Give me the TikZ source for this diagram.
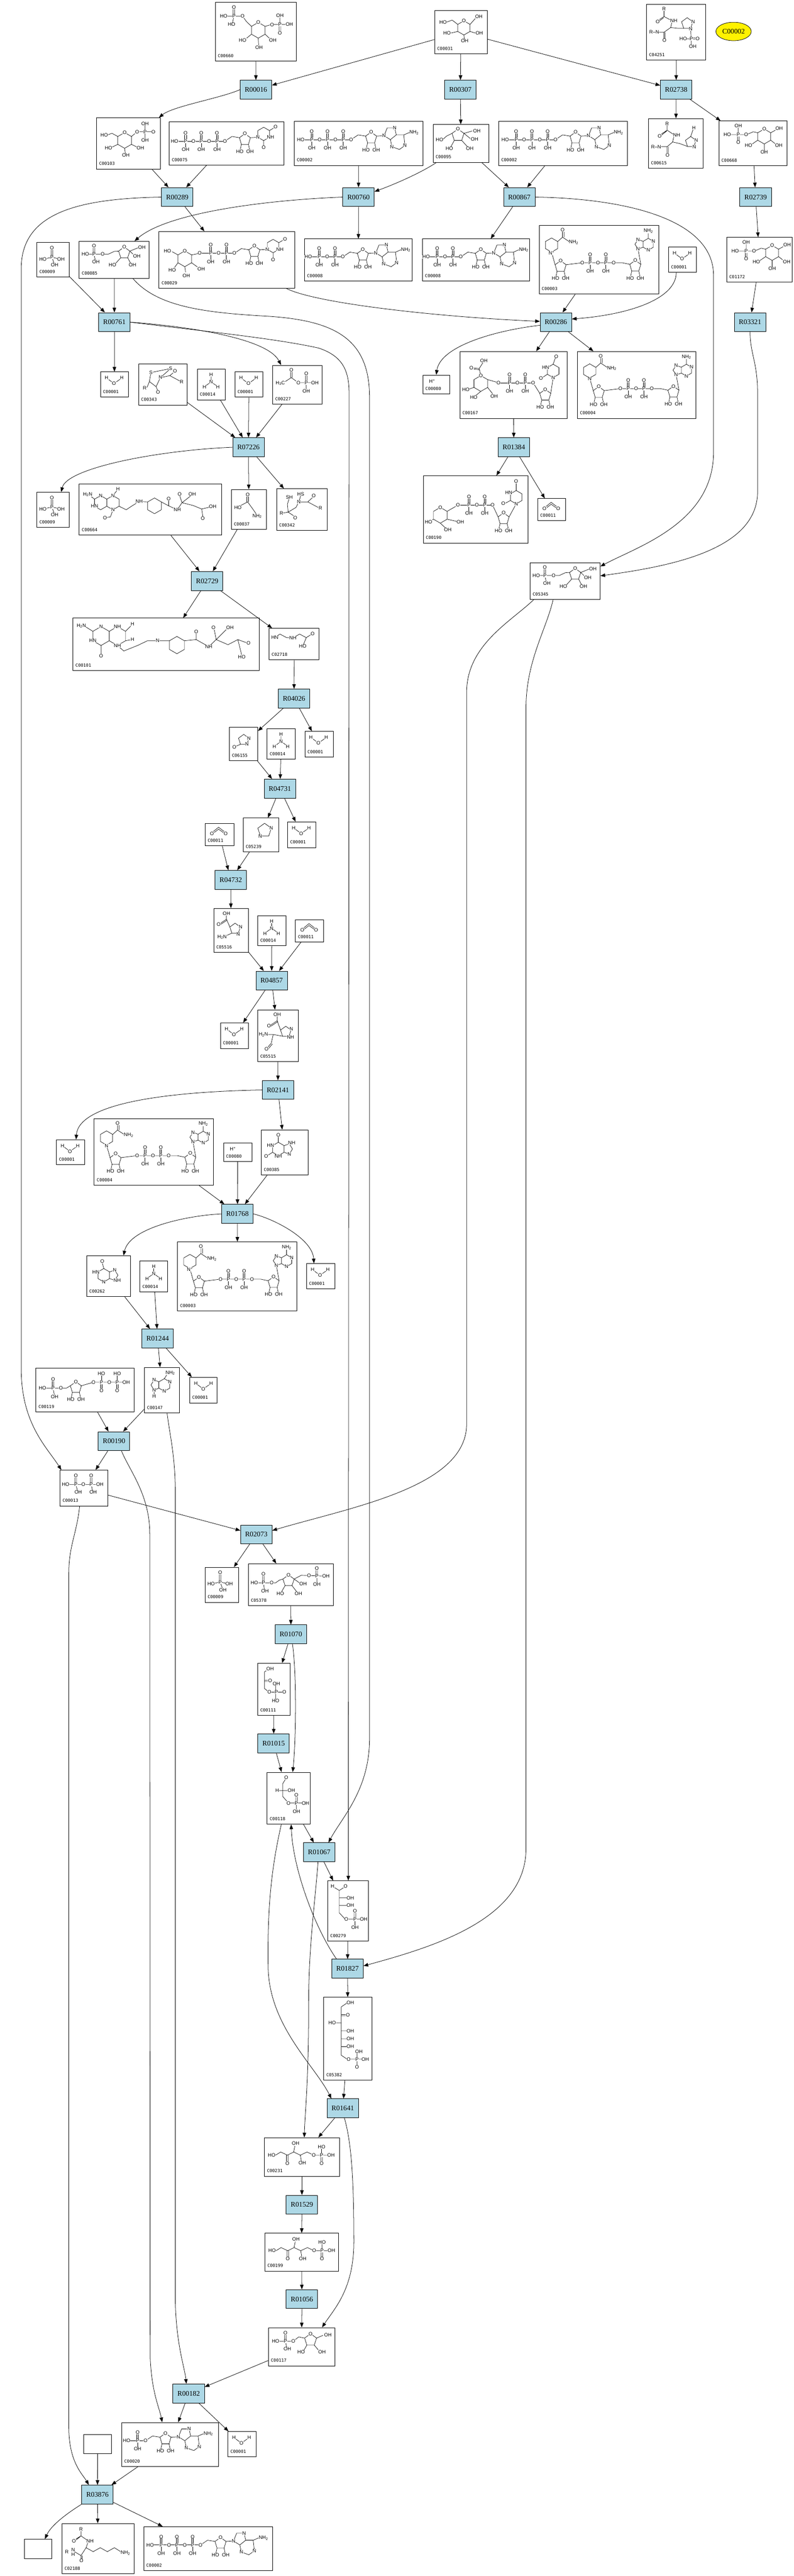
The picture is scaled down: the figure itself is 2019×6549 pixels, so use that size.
\documentclass[tikz,border=0pt]{standalone}
\usepackage{fontspec}
\setmainfont{Liberation Serif}
\newfontfamily\sansf{Liberation Sans}
\newfontfamily\monof{DejaVu Sans Mono}
\usetikzlibrary{arrows.meta,shapes.geometric}
\definecolor{rxblue}{RGB}{173,216,230}
\newcommand\rxfont{\fontsize{18}{20}\selectfont}
\newcommand\atfont{\sansf\fontsize{12.5}{13}\selectfont}
\newcommand\idfont{\monof\fontsize{11}{12}\selectfont}
\tikzset{
 rx/.style={draw,fill=rxblue,line width=1.2pt,minimum width=80pt,minimum height=48pt,inner sep=0pt,font=\rxfont},
 cbox/.style={draw,line width=1.2pt,inner sep=0pt,fill=white},
 idl/.style={anchor=west,font=\idfont,inner sep=0pt},
 atm/.style={font=\atfont,inner sep=0.5pt,fill=white},
 bd/.style={line width=0.9pt},
 conn/.style={line width=1pt,-{Triangle[length=12pt,width=9pt]}},
}
% ---------- helpers ----------
\newcommand\kA[3]{\node[atm] at (#1,#2) {#3};}
\newcommand\kHex[3]{\draw[bd] (#1,#2) +(0,-#3) -- +(0.866*#3,-0.5*#3) -- +(0.866*#3,0.5*#3) -- +(0,#3) -- +(-0.866*#3,0.5*#3) -- +(-0.866*#3,-0.5*#3) -- cycle;}
\newcommand\kPent[3]{\draw[bd] (#1,#2) +(0,-#3) -- +(0.951*#3,-0.309*#3) -- +(0.588*#3,0.809*#3) -- +(-0.588*#3,0.809*#3) -- +(-0.951*#3,-0.309*#3) -- cycle;}
\newcommand\kChain[4]{%
 \pgfmathsetmacro\xe{#1+8+40*#3}%
 \draw[bd] (#1,#2)--(\xe,#2);
 \foreach \k in {1,...,#3}{%
  \pgfmathsetmacro\px{#1+28+40*(\k-1)}%
  \draw[bd] (\px-2,#2)--(\px-2,#2-21) (\px+2,#2)--(\px+2,#2-21) (\px,#2)--(\px,#2+20);
  \kA{\px}{#2}{P}\kA{\px+20}{#2}{O}\kA{\px}{#2-21}{O}\kA{\px}{#2+21}{OH}}
 \kA{#1}{#2}{#4}}
\newcommand\kRib[2]{%
 \draw[bd] (#1,#2-15)--(#1+14,#2-5)--(#1+9,#2+12)--(#1-9,#2+12)--(#1-14,#2-5)--cycle (#1-9,#2+12)--(#1-12,#2+26) (#1+9,#2+12)--(#1+12,#2+26);
 \kA{#1}{#2-15}{O}\kA{#1-13}{#2+30}{HO}\kA{#1+13}{#2+30}{OH}}
\newcommand\kAde[2]{%
 \draw[bd] (#1,#2)--(#1+8,#2-20)--(#1+27,#2-20)--(#1+31,#2-2)--(#1+16,#2+10)--cycle (#1+31,#2-2)--(#1+50,#2-2)--(#1+53,#2+25)--(#1+39,#2+35)--(#1+20,#2+28)--(#1+16,#2+10) (#1+50,#2-2)--(#1+64,#2-8);
 \kA{#1}{#2}{N}\kA{#1+27}{#2-20}{N}\kA{#1+53}{#2+25}{N}\kA{#1+20}{#2+28}{N}\kA{#1+76}{#2-8}{NH\textsubscript{2}}}
\newcommand\kUra[2]{%
 \kHex{#1+14.7}{#2-8.5}{17}
 \draw[bd] (#1+14.7,#2+8.5)--(#1+14.7,#2+22) (#1+29.4,#2-17)--(#1+41,#2-24);
 \kA{#1}{#2}{N}\kA{#1+14.7}{#2+26}{O}\kA{#1+32}{#2}{NH}\kA{#1+45}{#2-26}{O}}
\newcommand\kNuc[5]{%
 \pgfmathsetmacro\xo{#1+8+40*#3}%
 \draw[bd] (\xo,#2)--(\xo+18,#2-12)--(\xo+37,#2-9) (\xo+65,#2-9)--(\xo+84,#2-10);
 \kRib{\xo+51}{#2-4}
 #5{\xo+84}{#2-10}
 \kChain{#1}{#2}{#3}{#4}}
\newcommand\cmp[7]{%
 \node[cbox,minimum width=#4pt,minimum height=#5pt,anchor=north west] (#1) at (#2,#3) {};
 \begin{scope}[shift={(#2,#3)}]#7\end{scope}
 \node[idl] at ([xshift=7pt,yshift=14pt]#1.south west) {#6};}
% ---------- structures ----------
\newcommand\sWat{\draw[bd] (16,16)--(35,30)--(55,16); \kA{16}{16}{H}\kA{35}{30}{O}\kA{55}{16}{H}}
\newcommand\sNH{\draw[bd] (36,15)--(36,33)--(19,45) (36,33)--(53,45); \kA{36}{15}{H}\kA{36}{33}{N}\kA{19}{46}{H}\kA{53}{46}{H}}
\newcommand\sCO{\draw[bd] (18,24)--(35,10)--(53,24) (22,25)--(35,15)--(49,25); \kA{18}{26}{O}\kA{53}{26}{O}}
\newcommand\sHp{\kA{24}{16}{H\textsuperscript{+}}}
\newcommand\sPi{\draw[bd] (37,14)--(37,38) (41,14)--(41,38) (39,38)--(16,43) (39,38)--(62,43) (39,38)--(46,57); \kA{39}{14}{O}\kA{39}{38}{P}\kA{16}{43}{HO}\kA{62}{43}{OH}\kA{46}{58}{OH}}
\newcommand\sPPi{\draw[bd] (15,37)--(102,37) (39,15)--(39,37) (43,15)--(43,37) (78,15)--(78,37) (82,15)--(82,37) (41,37)--(46,56) (80,37)--(84,56); \kA{15}{37}{HO}\kA{41}{37}{P}\kA{60}{37}{O}\kA{80}{37}{P}\kA{102}{37}{OH}\kA{41}{15}{O}\kA{80}{15}{O}\kA{47}{57}{OH}\kA{85}{57}{OH}}
\newcommand\sATP{\kNuc{17}{47}{3}{HO}{\kAde}}
\newcommand\sADP{\kNuc{10}{46}{2}{HO}{\kAde}}
\newcommand\sAMP{\kNuc{13}{47}{1}{HO}{\kAde}}
\newcommand\sUTP{\kNuc{14}{50}{3}{HO}{\kUra}}
\newcommand\sNAD[1]{%
 \kHex{32}{50}{18}
 \draw[bd] (47.6,41)--(60,30)--(60,14) (64,30)--(64,16) (60,30)--(78,42) (32,68)--(41,100) (69,100)--(110,95)--(212,95)--(231,99) (259,99)--(252,60) (265,40.5)--(252,36)--(244,48)--(252,60)--(265,55.5) (278,33)--(278,20);
 \foreach \px in {130,170}{\draw[bd] (\px-2,95)--(\px-2,74) (\px+2,95)--(\px+2,74) (\px,95)--(\px,115); \kA{\px}{95}{P}\kA{\px}{74}{O}\kA{\px}{116}{OH}}
 \kA{110}{95}{O}\kA{150}{95}{O}\kA{190}{95}{O}
 \kRib{55}{105}\kRib{245}{104}
 \kHex{278}{48}{15}
 \kA{60}{12}{O}\kA{88}{43}{NH\textsubscript{2}}\kA{32}{70}{#1}
 \kA{278}{14}{NH\textsubscript{2}}\kA{291}{40.5}{N}\kA{278}{63}{N}\kA{252}{36}{N}\kA{252}{60}{N}}
\newcommand\sGsix{%
 \kHex{116}{40}{19}
 \draw[bd] (50,14)--(50,35) (20,35)--(72,35) (48,35)--(48,54) (52,35)--(52,54) (72,35)--(88,28)--(99.5,30.5) (132.5,30.5)--(148,22) (99.5,49.5)--(84,60) (132.5,49.5)--(146,60) (116,59)--(116,76);
 \kA{50}{13}{OH}\kA{22}{35}{HO}\kA{50}{35}{P}\kA{70}{35}{O}\kA{50}{55}{O}\kA{116}{21}{O}\kA{154}{20}{OH}\kA{76}{62}{HO}\kA{153}{62}{OH}\kA{116}{80}{OH}}
\newcommand\sFsix{%
 \kPent{115}{30}{15}
 \draw[bd] (36,12)--(36,33) (40,12)--(40,33) (16,33)--(75,33) (38,33)--(42,52) (75,33)--(90,26)--(100.7,25.4) (129.3,25.4)--(150,17) (129.3,25.4)--(140,36) (106.2,42.1)--(92,58) (123.8,42.1)--(132,58);
 \kA{38}{12}{O}\kA{16}{33}{HO}\kA{38}{33}{P}\kA{60}{33}{O}\kA{43}{53}{OH}\kA{115}{15}{O}\kA{160}{16}{OH}\kA{147}{38}{OH}\kA{85}{61}{HO}\kA{136}{61}{OH}}
\newcommand\sFBP{%
 \kPent{103}{44}{15}
 \draw[bd] (37,28)--(37,49) (41,28)--(41,49) (16,49)--(70,49) (39,49)--(42,68) (70,49)--(80,42)--(88.7,39.4) (117.3,39.4)--(135,30)--(198,32) (173,32)--(173,13) (177,32)--(177,13) (175,32)--(175,52) (117.3,39.4)--(132,50) (94.2,56.1)--(85,72) (111.8,56.1)--(124,72);
 \kA{39}{27}{O}\kA{16}{49}{HO}\kA{39}{49}{P}\kA{60}{49}{O}\kA{43}{70}{OH}\kA{103}{29}{O}\kA{155}{31}{O}\kA{175}{32}{P}\kA{198}{32}{OH}\kA{175}{12}{O}\kA{175}{53}{OH}\kA{140}{52}{OH}\kA{82}{76}{HO}\kA{128}{76}{OH}}
\newcommand\sCsixsixty{%
 \kHex{110}{72}{20}
 \draw[bd] (46,14)--(46,36) (50,14)--(50,36) (22,36)--(70,36)--(80,50)--(92.7,62) (48,36)--(44,55) (127.3,62)--(145,57)--(190,57) (165,57)--(165,36) (163,57)--(163,78) (167,57)--(167,78) (92.7,82)--(78,94) (127.3,82)--(140,94) (110,92)--(111,110);
 \kA{48}{13}{O}\kA{22}{36}{HO}\kA{48}{36}{P}\kA{70}{36}{O}\kA{42}{57}{HO}\kA{145}{58}{O}\kA{165}{57}{P}\kA{189}{57}{OH}\kA{165}{35}{OH}\kA{165}{79}{O}\kA{110}{52}{O}\kA{70}{97}{HO}\kA{147}{97}{OH}\kA{112}{116}{OH}}
\newcommand\sGlc{%
 \kHex{75}{45}{18}
 \draw[bd] (59.4,36)--(45,25)--(32,30) (90.6,36)--(105,20) (59.4,54)--(42,58) (90.6,54)--(104,58) (75,63)--(76,74);
 \kA{75}{27}{O}\kA{22}{30}{HO}\kA{113}{16}{OH}\kA{32}{58}{HO}\kA{114}{58}{OH}\kA{77}{78}{OH}}
\newcommand\sGlcOneP{%
 \kHex{72}{58}{20}
 \draw[bd] (89.3,48)--(104,36)--(145,36) (124,15)--(124,57) (54.7,48)--(40,40)--(28,44) (54.7,68)--(40,75) (89.3,68)--(104,75) (72,78)--(74,92);
 \kA{72}{38}{O}\kA{104}{36}{O}\kA{124}{36}{P}\kA{145}{36}{O}\kA{124}{15}{OH}\kA{124}{57}{OH}\kA{20}{44}{HO}\kA{31}{77}{HO}\kA{112}{77}{OH}\kA{75}{96}{OH}}
\newcommand\sFru{%
 \kPent{64}{28}{16}
 \draw[bd] (79.2,23.1)--(100,17) (79.2,23.1)--(95,36) (48.8,23.1)--(35,30)--(26,38) (54.6,40.9)--(46,57) (73.4,40.9)--(88,57);
 \kA{64}{12}{O}\kA{112}{17}{OH}\kA{106}{38}{OH}\kA{17}{39}{HO}\kA{42}{62}{HO}\kA{94}{62}{OH}}
\newcommand\sCfour{%
 \kPent{104}{50}{15}
 \draw[bd] (45,16)--(45,32)--(30,42) (44,35)--(31,45) (45,32)--(66,43)--(62,60)--(45,72)--(45,90) (48,72)--(48,90) (45,72)--(28,72) (62,60)--(80,62)--(95.2,62.1) (112.8,62.1)--(114,85) (114,93)--(114,104);
 \kA{45}{13}{R}\kA{29}{45}{O}\kA{70}{43}{NH}\kA{20}{72}{R–N}\kA{46}{93}{O}\kA{119}{45}{N}\kA{113}{64}{N}\kA{110}{89}{HO–P=O}\kA{118}{108}{OH}}
\newcommand\sCsixfifteen{%
 \kPent{108}{60}{14}
 \draw[bd] (48,16)--(48,30)--(30,42) (47,32)--(32,44) (48,30)--(66,42)--(62,60)--(48,72)--(48,90) (51,72)--(51,90) (48,72)--(28,72) (62,60)--(80,64)--(99.8,71.3) (108,46)--(114,28);
 \kA{48}{13}{R}\kA{29}{45}{O}\kA{72}{43}{NH}\kA{20}{72}{R–N}\kA{49}{93}{O}\kA{116}{24}{H}\kA{122}{56}{N}\kA{117}{73}{N}}
\newcommand\sAcP{%
 \draw[bd] (28,45)--(48,32)--(66,45)--(108,45) (46,32)--(46,14) (50,32)--(50,14) (84,45)--(84,22) (88,45)--(88,22) (86,45)--(86,64);
 \kA{48}{13}{O}\kA{20}{46}{H\textsubscript{3}C}\kA{66}{45}{O}\kA{86}{45}{P}\kA{108}{45}{OH}\kA{86}{22}{O}\kA{86}{66}{OH}}
\newcommand\sCthreefourthree{%
 \draw[bd] (32,22)--(82,12) (32,22)--(28,45)--(22,60) (28,45)--(45,58)--(50,70) (45,58)--(56,35)--(82,12) (56,35)--(80,30)--(93,19) (80,30)--(108,45);
 \kA{32}{22}{S}\kA{82}{12}{S}\kA{56}{34}{N}\kA{93}{18}{O}\kA{110}{46}{R}\kA{16}{62}{R}\kA{50}{72}{O}}
\newcommand\sCthreefourtwo{%
 \draw[bd] (33,24)--(28,40)--(30,60)--(14,63) (30,60)--(48,72) (30,60)--(50,48)--(57,34)--(62,18) (57,34)--(80,34)--(95,20) (80,34)--(110,50);
 \kA{33}{22}{SH}\kA{62}{14}{HS}\kA{57}{34}{N}\kA{95}{18}{O}\kA{112}{50}{R}\kA{13}{63}{R}\kA{48}{74}{O}}
\newcommand\sUDPG{%
 \kHex{66}{70}{20}
 \draw[bd] (48.7,60)--(34,52) (48.7,80)--(40,92) (83.3,80)--(100,92) (66,90)--(68,104) (83.3,60)--(104,56);
 \kA{22}{50}{HO}\kA{34}{98}{HO}\kA{108}{96}{OH}\kA{70}{113}{OH}\kA{66}{50}{O}
 \kNuc{104}{56}{2}{O}{\kUra}}
\newcommand\sUDPGA{%
 \kHex{54}{82}{20}
 \draw[bd] (54,62)--(50,44)--(60,28) (50,44)--(34,42) (51,47)--(35,45) (36.7,92)--(24,96) (54,102)--(42,112) (71.3,92)--(84,108) (71.3,72)--(99,80) (187,80)--(204,107) (238,67)--(232,107) (238,33)--(244,16) (223.3,58.5)--(212,66);
 \kA{62}{24}{OH}\kA{30}{42}{O}\kA{16}{97}{HO}\kA{36}{117}{HO}\kA{88}{114}{OH}\kA{54}{62}{O}
 \kRib{218}{112}
 \kHex{238}{50}{17}
 \kA{238}{67}{N}\kA{246}{13}{O}\kA{219}{41.5}{HN}\kA{207}{69}{O}
 \kChain{99}{80}{2}{O}}
\newcommand\sUDPX{%
 \kHex{44}{101}{20}
 \draw[bd] (61.3,91)--(89,75) (26.7,111)--(18,116) (61.3,111)--(88,117) (44,121)--(58,134) (177,75)--(191,105) (237,72)--(219,105) (237,38)--(237,20) (222.3,63.5)--(210,70);
 \kA{44}{81}{O}\kA{14}{118}{HO}\kA{95}{118}{OH}\kA{63}{138}{OH}
 \kRib{205}{110}
 \kHex{237}{55}{17}
 \kA{237}{72}{N}\kA{237}{15}{O}\kA{218}{44}{HN}\kA{204}{71}{O}
 \kChain{89}{75}{2}{O}}
\newcommand\sPRPP{%
 \draw[bd] (42,29)--(42,51) (46,29)--(46,51) (17,51)--(78,51) (44,51)--(48,72) (78,51)--(88,45) (116,45)--(147,36)--(230,36);
 \kA{44}{29}{O}\kA{17}{51}{HO}\kA{44}{51}{P}\kA{64}{51}{O}\kA{48}{73}{OH}
 \kRib{102}{50}
 \foreach \px in {167,207}{\draw[bd] (\px,36)--(\px,14) (\px-2,36)--(\px-2,56) (\px+2,36)--(\px+2,56); \kA{\px}{36}{P}\kA{\px}{14}{HO}\kA{\px}{57}{O}}
 \kA{147}{36}{O}\kA{187}{36}{O}\kA{230}{36}{OH}}
\newcommand\sAde{%
 \kHex{51}{45}{16}
 \draw[bd] (37.1,37)--(25,32)--(17,45)--(25,58)--(37.1,53) (51,29)--(58,18) (25,58)--(25,70);
 \kA{66}{14}{NH\textsubscript{2}}\kA{64.9}{37}{N}\kA{51}{61}{N}\kA{25}{32}{N}\kA{25}{58}{N}\kA{25}{74}{H}}
\newcommand\sHyp{%
 \kHex{44}{50}{17}
 \draw[bd] (58.7,41.5)--(72,37)--(80,50)--(72,63)--(58.7,58.5) (44,33)--(40,18);
 \kA{40}{15}{O}\kA{24}{41.5}{HN}\kA{44}{67}{N}\kA{72}{37}{N}\kA{78}{63}{NH}}
\newcommand\sXan{%
 \kHex{44}{49}{17}
 \draw[bd] (58.7,40.5)--(72,36)--(80,49)--(72,62)--(58.7,57.5) (44,32)--(44,18) (29.3,57.5)--(16,66);
 \kA{44}{14}{O}\kA{24}{40.5}{HN}\kA{13}{68}{O}\kA{44}{68}{NH}\kA{78}{34}{NH}\kA{72}{62}{N}}
\newcommand\sUIC{%
 \kPent{72}{56}{14}
 \draw[bd] (50,14)--(50,28)--(32,40) (52,30)--(34,42) (50,28)--(58.7,51.7) (63.8,67.3)--(40,63) (40,63)--(35,85)--(24,98) (38,87)--(27,100) (40,63)--(20,63);
 \kA{50}{12}{OH}\kA{29}{41}{O}\kA{86}{49}{N}\kA{84}{70}{NH}\kA{15}{63}{H\textsubscript{2}N}\kA{23}{100}{O}}
\newcommand\sAIC{%
 \kPent{55}{52}{14}
 \draw[bd] (33,14)--(33,28)--(15,40) (35,30)--(17,42) (33,28)--(41.7,47.7) (46.8,63.3)--(32,70);
 \kA{33}{13}{OH}\kA{13}{41}{O}\kA{22}{73}{H\textsubscript{2}N}\kA{69}{48}{N}\kA{63}{66}{N}}
\newcommand\sAimid{%
 \kPent{55}{32}{18}
 \kA{72}{26}{N}\kA{44}{47}{N}}
\newcommand\sImone{%
 \kPent{37}{33}{14}
 \draw[bd] (28.8,44.3)--(15,50);
 \kA{50}{29}{N}\kA{45}{44}{N}\kA{13}{51}{O}}
\newcommand\sFig{%
 \draw[bd] (15,24)--(28,15)--(45,24)--(61,25)--(78,15)--(95,24)--(111,14) (95,24)--(87,44);
 \kA{15}{24}{HN}\kA{61}{25}{NH}\kA{111}{14}{O}\kA{86}{46}{HO}}
\newcommand\sGly{%
 \draw[bd] (40,15)--(40,32) (44,15)--(44,32) (42,32)--(17,45) (42,32)--(55,50)--(66,66);
 \kA{42}{14}{O}\kA{17}{46}{HO}\kA{66}{68}{NH\textsubscript{2}}}
\newcommand\sCsixsixfour{%
 \kHex{55}{48}{18}\kHex{86.2}{48}{18}
 \draw[bd] (39.4,39)--(28,30) (86.2,30)--(99,14) (86.2,66)--(80,84)--(68,86) (101.8,57)--(120,66)--(135,56)--(153,45)--(174.7,46) (209.3,46)--(228,56)--(228,40) (228,56)--(250,66)--(262,48)--(256,30) (262,48)--(285,30) (262,48)--(290,55)--(312,64)--(315,84) (312,64)--(338,58);
 \kHex{192}{56}{20}
 \kA{22}{27}{H\textsubscript{2}N}\kA{55}{30}{N}\kA{39.4}{57}{HN}\kA{86.2}{30}{N}\kA{86.2}{66}{N}\kA{99}{13}{H}\kA{66}{86}{O}\kA{153}{45}{NH}\kA{228}{38}{O}\kA{250}{66}{NH}\kA{256}{27}{O}\kA{288}{27}{OH}\kA{340}{58}{OH}\kA{315}{88}{O}}
\newcommand\sTHF{%
 \kHex{72}{46}{24}\kHex{113.6}{46}{24}
 \draw[bd] (51.2,34)--(32,22) (72,70)--(72,92) (134.4,34)--(150,18) (134.4,58)--(150,55) (113.6,70)--(130,84)--(165,70)--(190,58)--(216,58)--(246,58) (284,58)--(314,55)--(314,38) (314,55)--(346,73)--(365,55)--(360,30) (365,55)--(395,25) (365,55)--(395,68)--(420,55)--(445,64) (420,55)--(430,95);
 \kHex{265}{69}{22}
 \kA{22}{20}{H\textsubscript{2}N}\kA{72}{22}{N}\kA{51.2}{58}{HN}\kA{113.6}{22}{NH}\kA{113.6}{70}{NH}\kA{72}{96}{O}\kA{152}{15}{H}\kA{152}{55}{H}\kA{216}{58}{N}\kA{314}{35}{O}\kA{346}{73}{NH}\kA{358}{24}{O}\kA{400}{24}{OH}\kA{447}{64}{O}\kA{430}{99}{HO}}
\newcommand\sEfour{%
 \draw[bd] (13,15)--(30,25)--(46,15) (30,25)--(30,82)--(45,98)--(92,98) (30,44)--(53,44) (30,63)--(53,63) (68,78)--(68,98) (72,78)--(72,98) (70,98)--(70,118);
 \kA{13}{15}{H}\kA{46}{15}{O}\kA{58}{44}{OH}\kA{58}{63}{OH}\kA{48}{98}{O}\kA{70}{98}{P}\kA{92}{98}{OH}\kA{70}{77}{O}\kA{70}{119}{OH}}
\newcommand\sGAP{%
 \draw[bd] (49,15)--(40,30)--(40,62)--(55,79)--(98,79) (40,47)--(60,47) (40,47)--(28,47) (73,60)--(73,79) (77,60)--(77,79) (75,79)--(75,99);
 \kA{49}{14}{O}\kA{26}{47}{H}\kA{62}{47}{OH}\kA{55}{79}{O}\kA{75}{79}{P}\kA{98}{79}{OH}\kA{75}{59}{O}\kA{75}{100}{OH}}
\newcommand\sDHAP{%
 \draw[bd] (18,22)--(30,15) (18,22)--(18,65)--(30,74)--(70,74) (18,44)--(30,44) (18,47)--(30,47) (46,52)--(46,95);
 \kA{32}{15}{OH}\kA{32}{45}{O}\kA{30}{74}{O}\kA{48}{74}{P}\kA{68}{74}{O}\kA{48}{52}{OH}\kA{46}{96}{HO}}
\newcommand\sSseven{%
 \draw[bd] (45,25)--(60,15) (45,25)--(45,148)--(60,158)--(105,158) (45,45)--(56,45) (45,48)--(56,48) (45,66)--(30,66) (45,86)--(60,86) (45,106)--(60,106) (45,126)--(60,126) (85,137)--(85,178);
 \kA{68}{15}{OH}\kA{62}{46}{O}\kA{22}{66}{HO}\kA{68}{86}{OH}\kA{68}{106}{OH}\kA{68}{126}{OH}\kA{64}{158}{O}\kA{85}{158}{P}\kA{106}{158}{OH}\kA{90}{139}{OH}\kA{85}{178}{O}}
\newcommand\sKetoP{%
 \draw[bd] (19,45)--(29,45)--(42,37)--(59,45)--(75,37)--(92,45)--(109,37)--(126,45)--(170,45) (57,45)--(57,65) (61,45)--(61,65) (75,37)--(78,22) (92,45)--(95,62) (146,24)--(146,45) (144,45)--(144,66) (148,45)--(148,66);
 \kA{19}{45}{HO}\kA{59}{66}{O}\kA{80}{15}{OH}\kA{97}{65}{OH}\kA{126}{45}{O}\kA{146}{45}{P}\kA{170}{45}{OH}\kA{146}{24}{HO}\kA{146}{66}{O}}
\newcommand\sRfive{%
 \kPent{108}{32}{16}
 \draw[bd] (19,35)--(64,35) (42,14)--(42,35) (46,14)--(46,35) (44,35)--(48,54) (64,35)--(78,24)--(92.8,27.1) (123.2,27.1)--(140,20) (98.6,44.9)--(90,60) (117.4,44.9)--(130,60);
 \kA{44}{14}{O}\kA{19}{35}{HO}\kA{44}{35}{P}\kA{64}{35}{O}\kA{49}{55}{OH}\kA{108}{16}{O}\kA{152}{19}{OH}\kA{84}{63}{HO}\kA{137}{62}{OH}}
\newcommand\sPlys{%
 \draw[bd] (49,18)--(49,32)--(31,43) (47,34)--(33,45) (49,32)--(68,45)--(62,62)--(49,82)--(49,93) (52,82)--(52,93) (49,82)--(29,70) (62,62)--(80,72)--(98,62)--(116,72)--(134,62)--(150,72);
 \kA{49}{15}{R}\kA{31}{45}{O}\kA{72}{45}{NH}\kA{13}{73}{R}\kA{29}{67}{N}\kA{29}{79}{H}\kA{50}{95}{O}\kA{162}{75}{NH\textsubscript{2}}}
\begin{document}
\begin{tikzpicture}[x=1pt,y=-1pt]
\fill[white] (0,0) rectangle (2019,6549);
\useasboundingbox (0,0) rectangle (2019,6549);
% ---------- reactions ----------
\node[rx] (R00016) at (651,228) {R00016};
\node[rx] (R00307) at (1171,228) {R00307};
\node[rx] (R02738) at (1720,228) {R02738};
\node[rx] (R00289) at (451,501) {R00289};
\node[rx] (R00760) at (912,501) {R00760};
\node[rx] (R00867) at (1321,501) {R00867};
\node[rx] (R02739) at (1922,501) {R02739};
\node[rx] (R00761) at (291,819) {R00761};
\node[rx] (R00286) at (1414,819) {R00286};
\node[rx] (R03321) at (1908,819) {R03321};
\node[rx] (R07226) at (632,1137) {R07226};
\node[rx] (R01384) at (1307,1137) {R01384};
\node[rx] (R02729) at (527,1477) {R02729};
\node[rx] (R04026) at (748,1776) {R04026};
\node[rx] (R04731) at (712,2005) {R04731};
\node[rx] (R04732) at (587,2237) {R04732};
\node[rx] (R04857) at (691,2493) {R04857};
\node[rx] (R02141) at (707,2771) {R02141};
\node[rx] (R01768) at (604,3086) {R01768};
\node[rx] (R01244) at (401,3403) {R01244};
\node[rx] (R00190) at (290,3664) {R00190};
\node[rx] (R02073) at (652,3901) {R02073};
\node[rx] (R01070) at (740,4155) {R01070};
\node[rx] (R01015) at (696,4432) {R01015};
\node[rx] (R01067) at (812,4709) {R01067};
\node[rx] (R01827) at (884,5005) {R01827};
\node[rx] (R01641) at (872,5360) {R01641};
\node[rx] (R01529) at (768,5605) {R01529};
\node[rx] (R01056) at (768,5845) {R01056};
\node[rx] (R00182) at (480,6085) {R00182};
\node[rx] (R03876) at (248,6342) {R03876};
% ---------- compounds ----------
\cmp{C00660}{547}{5}{206}{150}{C00660}{\sCsixsixty}
\cmp{C00031}{1105}{26}{134}{110}{C00031}{\sGlc}
\cmp{C04251}{1644}{10}{151}{142}{C04251}{\sCfour}
\node[draw,ellipse,fill=yellow,minimum width=90pt,minimum height=47pt,inner sep=0pt,font=\rxfont,line width=1pt] (C00002y) at (1866,80) {C00002};
\cmp{C00103}{245}{299}{162}{130}{C00103}{\sGlcOneP}
\cmp{C00075}{430}{309}{292}{110}{C00075}{\sUTP}
\cmp{C00002a}{748}{308}{327}{112}{C00002}{\sATP}
\cmp{C00095}{1101}{316}{142}{96}{C00095}{\sFru}
\cmp{C00002b}{1268}{308}{327}{112}{C00002}{\sATP}
\cmp{C00615}{1649}{301}{139}{126}{C00615}{\sCsixfifteen}
\cmp{C00668}{1828}{307}{173}{114}{C00668}{\sGsix}
\cmp{C00009a}{93}{616}{82}{88}{C00009}{\sPi}
\cmp{C00085}{201}{613}{178}{94}{C00085}{\sFsix}
\cmp{C00029}{404}{588}{345}{144}{C00029}{\sUDPG}
\cmp{C00008a}{774}{607}{274}{107}{C00008}{\sADP}
\cmp{C00008b}{1074}{607}{273}{107}{C00008}{\sADP}
\cmp{C00003a}{1371}{573}{304}{174}{C00003}{\sNAD{N\textsuperscript{+}}}
\cmp{C00001a}{1700}{628}{71}{64}{C00001}{\sWat}
\cmp{C01172}{1848}{603}{167}{114}{C01172}{\sGsix}
\cmp{C00001b}{255}{945}{71}{64}{C00001}{\sWat}
\cmp{C00343}{352}{925}{123}{104}{C00343}{\sCthreefourthree}
\cmp{C00014a}{501}{938}{71}{78}{C00014}{\sNH}
\cmp{C00001c}{597}{945}{71}{64}{C00001}{\sWat}
\cmp{C00227}{693}{928}{125}{99}{C00227}{\sAcP}
\cmp{C00080a}{1075}{953}{68}{48}{C00080}{\sHp}
\cmp{C00167}{1169}{893}{273}{170}{C00167}{\sUDPGA}
\cmp{C00004a}{1468}{893}{302}{170}{C00004}{\sNAD{N}}
\cmp{C00009b}{93}{1251}{82}{89}{C00009}{\sPi}
\cmp{C00664}{201}{1230}{362}{130}{C00664}{\sCsixsixfour}
\cmp{C00037}{588}{1244}{89}{101}{C00037}{\sGly}
\cmp{C00342}{703}{1242}{129}{106}{C00342}{\sCthreefourtwo}
\cmp{C00190}{1076}{1209}{267}{171}{C00190}{\sUDPX}
\cmp{C00011a}{1367}{1267}{71}{56}{C00011}{\sCO}
\cmp{C05345}{1348}{1430}{178}{93}{C05345}{\sFsix}
\cmp{C00101}{185}{1571}{474}{133}{C00101}{\sTHF}
\cmp{C02718}{684}{1597}{127}{80}{C02718}{\sFig}
\cmp{C06155}{583}{1848}{72}{85}{C06155}{\sImone}
\cmp{C00014b}{679}{1852}{72}{77}{C00014}{\sNH}
\cmp{C00001d}{775}{1859}{72}{65}{C00001}{\sWat}
\cmp{C00011b}{521}{2093}{73}{56}{C00011}{\sCO}
\cmp{C05239}{618}{2079}{90}{86}{C05239}{\sAimid}
\cmp{C00001e}{731}{2089}{72}{65}{C00001}{\sWat}
\cmp{C05516}{543}{2309}{88}{112}{C05516}{\sAIC}
\cmp{C00014c}{655}{2327}{72}{77}{C00014}{\sNH}
\cmp{C00011c}{751}{2338}{72}{56}{C00011}{\sCO}
\cmp{C00001f}{560}{2600}{71}{65}{C00001}{\sWat}
\cmp{C05515}{655}{2567}{103}{131}{C05515}{\sUIC}
\cmp{C00001g}{143}{2897}{72}{63}{C00001}{\sWat}
\cmp{C00004b}{239}{2843}{303}{170}{C00004}{\sNAD{N}}
\cmp{C00080b}{568}{2905}{72}{47}{C00080}{\sHp}
\cmp{C00385}{664}{2872}{119}{114}{C00385}{\sXan}
\cmp{C00262}{220}{3192}{111}{104}{C00262}{\sHyp}
\cmp{C00014d}{355}{3205}{71}{79}{C00014}{\sNH}
\cmp{C00003b}{451}{3157}{304}{175}{C00003}{\sNAD{N\textsuperscript{+}}}
\cmp{C00001h}{779}{3212}{72}{64}{C00001}{\sWat}
\cmp{C00119}{91}{3478}{250}{111}{C00119}{\sPRPP}
\cmp{C00147}{367}{3476}{89}{116}{C00147}{\sAde}
\cmp{C00001i}{482}{3501}{69}{65}{C00001}{\sWat}
\cmp{C00013}{152}{3737}{122}{91}{C00013}{\sPPi}
\cmp{C00009c}{521}{3984}{85}{89}{C00009}{\sPi}
\cmp{C05378}{631}{3975}{216}{106}{C05378}{\sFBP}
\cmp{C00111}{655}{4228}{83}{132}{C00111}{\sDHAP}
\cmp{C00118}{679}{4505}{110}{132}{C00118}{\sGAP}
\cmp{C00279}{833}{4781}{103}{153}{C00279}{\sEfour}
\cmp{C05382}{823}{5077}{123}{211}{C05382}{\sSseven}
\cmp{C00231}{672}{5434}{191}{98}{C00231}{\sKetoP}
\cmp{C00199}{673}{5677}{187}{96}{C00199}{\sKetoP}
\cmp{C00117}{682}{5917}{169}{97}{C00117}{\sRfive}
\cmp{C00020}{309}{6158}{246}{112}{C00020}{\sAMP}
\cmp{C00001j}{579}{6181}{72}{64}{C00001}{\sWat}
\node[cbox,minimum width=71pt,minimum height=48pt,anchor=north west] (E1) at (212,6189) {};
\node[cbox,minimum width=70pt,minimum height=49pt,anchor=north west] (E2) at (61,6455) {};
\cmp{C02188}{157}{6415}{183}{128}{C02188}{\sPlys}
\cmp{C00002c}{365}{6423}{328}{112}{C00002}{\sATP}
% ---------- straight connectors ----------
\foreach \a/\b in {C00660/R00016, C00031/R00016, C00031/R00307, C00031/R02738, C04251/R02738,
 R00307/C00095, R02738/C00615, R02738/C00668, C00103/R00289, C00075/R00289, C00002a/R00760,
 C00095/R00867, C00002b/R00867, C00668/R02739, R00289/C00029, R00760/C00008a, R00867/C00008b,
 R02739/C01172, C01172/R03321, C00009a/R00761, C00085/R00761, R00761/C00001b, C00003a/R00286,
 R00286/C00167, R00286/C00004a, C00343/R07226, C00014a/R07226, C00001c/R07226, C00227/R07226,
 C00167/R01384, R07226/C00037, R07226/C00342, R01384/C00190, R01384/C00011a, C00664/R02729,
 C00037/R02729, R02729/C00101, R02729/C02718, C02718/R04026, R04026/C06155, R04026/C00001d,
 C06155/R04731, C00014b/R04731, R04731/C05239, R04731/C00001e, C00011b/R04732, C05239/R04732,
 R04732/C05516, C05516/R04857, C00014c/R04857, C00011c/R04857, R04857/C00001f, R04857/C05515,
 C05515/R02141, R02141/C00385, C00004b/R01768, C00080b/R01768, C00385/R01768, R01768/C00003b,
 C00262/R01244, C00014d/R01244, R01244/C00147, R01244/C00001i, C00119/R00190, C00147/R00190,
 R00190/C00013, R02073/C00009c, R02073/C05378, C05378/R01070, R01070/C00111, C00111/R01015,
 R01015/C00118, C00118/R01067, R01067/C00279, C00279/R01827, R01827/C05382, C05382/R01641,
 R01641/C00231, C00231/R01529, R01529/C00199, C00199/R01056, R01056/C00117, C00117/R00182,
 R00182/C00020, R00182/C00001j, E1/R03876, C00020/R03876, R03876/C02188, R03876/C00002c}
 {\draw[conn] (\a) -- (\b);}
% ---------- curved connectors ----------
\draw[conn] (R00016.west) .. controls (560,250) and (440,270) .. ([xshift=-4pt]C00103.north east);
\draw[conn] ([xshift=9pt]C00095.south west) .. controls (1070,440) and (1000,470) .. ([yshift=14pt]R00760.east);
\draw[conn] (R00289.west) .. controls (200,505) and (56,540) .. (54,680) -- (54,3480) .. controls (54,3620) and (120,3680) .. ([xshift=4pt]C00013.north west);
\draw[conn] (R00760.west) .. controls (650,510) and (420,545) .. ([xshift=-38pt]C00085.north east);
\draw[conn] (R00867.east) .. controls (1600,505) and (1815,560) .. (1815,700) -- (1815,1150) .. controls (1815,1330) and (1620,1390) .. ([yshift=-10pt]C05345.north east);
\draw[conn] (R03321.south) .. controls (1908,900) and (1927,920) .. (1927,1000) -- (1927,1250) .. controls (1927,1400) and (1700,1440) .. ([yshift=-34pt]C05345.north east);
\draw[conn] ([xshift=-42pt]C00085.south east) .. controls (400,780) and (520,795) .. (682,804) .. controls (850,815) and (940,860) .. (940,1010) -- (940,4420) .. controls (940,4550) and (870,4620) .. ([xshift=-17pt]R01067.north east);
\draw[conn] (R00761.east) .. controls (500,840) and (700,860) .. (811,885) .. controls (870,905) and (888,940) .. (888,1000) -- ([xshift=53pt]C00279.north west);
\draw[conn] (R00761.east) .. controls (480,830) and (680,860) .. ([xshift=22pt]C00227.north west);
\draw[conn] ([xshift=-22pt]C00029.south east) .. controls (800,770) and (1100,805) .. ([yshift=2pt]R00286.west);
\draw[conn] ([xshift=-16pt]C00001a.south) .. controls (1720,760) and (1600,800) .. ([yshift=8pt]R00286.east);
\draw[conn] ([yshift=-8pt]R00286.west) .. controls (1260,840) and (1120,880) .. (C00080a.north);
\draw[conn] (R07226.west) .. controls (400,1145) and (170,1190) .. ([xshift=21pt]C00009b.north);
\draw[conn] ([xshift=10pt]C05345.south west) .. controls (1300,1580) and (1187,1640) .. (1187,1760) -- (1187,3620) .. controls (1187,3780) and (900,3830) .. ([yshift=10pt]R02073.east);
\draw[conn] ([xshift=59pt]C05345.south west) .. controls (1390,1600) and (1338,1680) .. (1338,1800) -- (1338,4700) .. controls (1338,4880) and (1100,4950) .. ([yshift=7pt]R01827.east);
\draw[conn] (R02141.west) .. controls (450,2775) and (200,2800) .. ([xshift=14pt]C00001g.north);
\draw[conn] (R01768.west) .. controls (480,3090) and (330,3120) .. ([xshift=-18pt]C00262.north east);
\draw[conn] (R01768.east) .. controls (700,3100) and (795,3150) .. ([xshift=-17pt]C00001h.north);
\draw[conn] ([xshift=19pt]R00190.south) .. controls (330,3740) and (381,3800) .. (381,3900) -- (382,5990) .. controls (385,6080) and (405,6120) .. ([xshift=-20pt]C00020.north);
\draw[conn] ([xshift=13pt]C00147.south) .. controls (432,3650) and (446,3700) .. (446,3800) -- (446,5850) .. controls (448,5960) and (470,6020) .. ([xshift=-6pt]R00182.north);
\draw[conn] ([xshift=-11pt]C00013.south) .. controls (195,3900) and (175,3930) .. (175,4000) -- (175,6170) .. controls (175,6260) and (210,6290) .. ([xshift=-22pt]R03876.north);
\draw[conn] ([yshift=-18pt]C00013.east) -- ([yshift=10pt]R02073.west);
\draw[conn] ([xshift=4pt]R01070.south) .. controls (755,4260) and (753,4420) .. ([xshift=10pt]C00118.north);
\draw[conn] ([xshift=-3pt]R01067.south) .. controls (800,4850) and (785,4950) .. (785,5100) .. controls (785,5300) and (775,5380) .. ([xshift=6pt]C00231.north);
\draw[conn] ([xshift=-28pt]R01827.north) .. controls (800,4900) and (745,4750) .. ([xshift=6pt]C00118.south);
\draw[conn] ([xshift=-19pt]C00118.south) .. controls (690,4750) and (680,4850) .. (682,5000) .. controls (684,5150) and (800,5250) .. ([xshift=-29pt]R01641.north);
\draw[conn] ([xshift=4pt]R01641.south) .. controls (895,5450) and (900,5550) .. (900,5700) .. controls (900,5820) and (850,5870) .. ([xshift=-33pt]C00117.north east);
\draw[conn] (R03876.south west) .. controls (170,6390) and (130,6420) .. ([xshift=-18pt]E2.north east);
\end{tikzpicture}
\end{document}
